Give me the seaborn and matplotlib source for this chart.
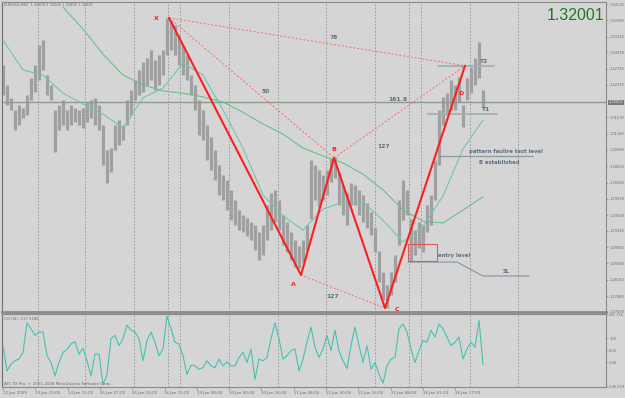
import numpy as np
import pandas as pd
import matplotlib
matplotlib.use("Agg")
import matplotlib.pyplot as plt
from matplotlib.patches import Rectangle
import seaborn as sns

# ---------------- data ----------------
time_labels = ["12 Jan 2009", "13 Jan 23:00", "14 Jan 15:00", "15 Jan 07:00", "15 Jan 23:00",
               "16 Jan 15:00", "19 Jan 08:00", "20 Jan 00:00", "20 Jan 16:00", "21 Jan 08:00",
               "22 Jan 00:00", "22 Jan 16:00", "23 Jan 08:00", "26 Jan 01:00", "26 Jan 17:00"]
price_tick_values = [1.34118, 1.33768, 1.33418, 1.33078, 1.32728, 1.32378, 1.31678, 1.31328,
                     1.30980, 1.30630, 1.30280, 1.29930, 1.29580, 1.29240, 1.28890, 1.28540,
                     1.28190, 1.27840, 1.27500]
price_tick_labels = ["%.5f" % v for v in price_tick_values]
cci_tick_values = [292.724, 100, 0, -100, -296.019]
cci_tick_labels = ["292.724", "100", "0.00", "-100", "-296.019"]
symbol = "EURUSD,M60"
ohlc_last = "1.31878 1.32026 1.31895 1.32001"
last_price = 1.32001
last_cci = -117.3186

# hourly bars, one sample every 2 bars
price_high = [1.3281, 1.3238, 1.3210, 1.3184, 1.3195, 1.3188, 1.3216, 1.3253, 1.3281, 1.3324,
              1.3334, 1.3259, 1.3238, 1.3184, 1.3195, 1.3205, 1.3184, 1.3195, 1.3188, 1.3184,
              1.3188, 1.3201, 1.3205, 1.3210, 1.3195, 1.3152, 1.3098, 1.3102, 1.3152, 1.3162,
              1.3152, 1.3205, 1.3227, 1.3248, 1.3270, 1.3287, 1.3296, 1.3313, 1.3291, 1.3302,
              1.3313, 1.3382, 1.3373, 1.3367, 1.3345, 1.3324, 1.3302, 1.3259, 1.3238, 1.3205,
              1.3184, 1.3152, 1.3126, 1.3098, 1.3066, 1.3044, 1.3033, 1.3012, 1.2990, 1.2969,
              1.2958, 1.2952, 1.2943, 1.2937, 1.2922, 1.2937, 1.2980, 1.3006, 1.3012, 1.2990,
              1.2958, 1.2943, 1.2922, 1.2904, 1.2891, 1.2904, 1.2937, 1.3076, 1.3066, 1.3055,
              1.3044, 1.3055, 1.3081, 1.3083, 1.3051, 1.3023, 1.3006, 1.3027, 1.3023, 1.3012,
              1.3001, 1.2984, 1.2965, 1.2930, 1.2880, 1.2836, 1.2808, 1.2836, 1.2872, 1.2990,
              1.3033, 1.3012, 1.2950, 1.2926, 1.2943, 1.2937, 1.2980, 1.3001, 1.3076, 1.3184,
              1.3212, 1.3220, 1.3248, 1.3238, 1.3255, 1.3195, 1.3253, 1.3276, 1.3296, 1.3330,
              1.3227]
price_low = [1.3216, 1.3195, 1.3184, 1.3141, 1.3152, 1.3167, 1.3173, 1.3205, 1.3223, 1.3248,
             1.3270, 1.3216, 1.3205, 1.3094, 1.3141, 1.3152, 1.3141, 1.3152, 1.3158, 1.3152,
             1.3145, 1.3158, 1.3167, 1.3152, 1.3141, 1.3066, 1.3027, 1.3051, 1.3098, 1.3109,
             1.3119, 1.3152, 1.3173, 1.3205, 1.3216, 1.3223, 1.3238, 1.3248, 1.3227, 1.3238,
             1.3259, 1.3302, 1.3313, 1.3302, 1.3281, 1.3259, 1.3248, 1.3216, 1.3184, 1.3130,
             1.3119, 1.3076, 1.3055, 1.3033, 1.3001, 1.2990, 1.2969, 1.2947, 1.2937, 1.2926,
             1.2922, 1.2913, 1.2904, 1.2883, 1.2861, 1.2872, 1.2904, 1.2926, 1.2943, 1.2926,
             1.2894, 1.2879, 1.2861, 1.2846, 1.2844, 1.2857, 1.2883, 1.2950, 1.2990, 1.2975,
             1.2990, 1.3001, 1.3029, 1.3038, 1.2980, 1.2958, 1.2937, 1.2980, 1.2980, 1.2958,
             1.2943, 1.2930, 1.2915, 1.2879, 1.2814, 1.2775, 1.2758, 1.2786, 1.2814, 1.2894,
             1.2947, 1.2958, 1.2857, 1.2872, 1.2887, 1.2879, 1.2922, 1.2937, 1.2990, 1.3066,
             1.3152, 1.3173, 1.3184, 1.3184, 1.3201, 1.3147, 1.3205, 1.3220, 1.3238, 1.3253,
             1.3188]
cci = [39, -170, -114, -86, -72, -17, 225, 177, 122, 150,
       150, -45, -100, -211, -100, -17, 5, 52, 72, -31,
       16, -86, -211, -31, -31, -281, -200, 94, 122, 39,
       94, 205, 164, 150, 94, -86, 80, 150, 66, -45,
       11, 280, 177, 66, 52, -45, -198, -123, -128, -156,
       -142, -86, -128, -142, -72, -128, -95, -128, -128, -59,
       -17, -100, 11, -239, -72, -86, -59, 94, 225, 94,
       -72, -45, -3, 11, -170, -72, 66, 191, 25, -59,
       11, 122, -3, 164, -3, -86, -150, 39, 191, 39,
       -100, 39, -156, -100, -198, -270, -128, -72, -59, 177,
       215, 150, 11, -100, -3, 80, 66, 164, 108, 215,
       177, 108, 39, 66, 108, -72, 11, 66, 25, 247,
       -117]
# moving averages, one sample every 10 bars
ma_fast = [1.3334, 1.3270, 1.3259, 1.3220, 1.3197, 1.3175, 1.3145, 1.3210, 1.3231, 1.3285,
           1.3259, 1.3184, 1.3102, 1.3001, 1.2956, 1.2926, 1.2971, 1.2986, 1.2986, 1.2947,
           1.2900, 1.2934, 1.2999, 1.3100, 1.3162]
ma_slow_start = 30
ma_slow = [1.3405, 1.3358, 1.3304, 1.3259, 1.3238, 1.3225, 1.3220, 1.3212, 1.3201, 1.3179,
           1.3154, 1.3132, 1.3102, 1.3085, 1.3070, 1.3046, 1.3012, 1.2969, 1.2945, 1.2941,
           1.2969, 1.2997]

# harmonic pattern
pattern_names = ["X", "A", "B", "C", "D"]
pattern_bars = [83, 149, 165.5, 191, 231]
pattern_prices = [1.3382, 1.2829, 1.3081, 1.2758, 1.3279]
ratio_links = [(0, 4), (0, 2), (2, 4), (1, 3)]
ratio_labels = ["78", "50", "161.8", "127"]
cd_ratio_label = "127"

t2_level = 1.3279
t1_level = 1.3175
failure_level = 1.3085
entry_level = 1.2857
sl_level = 1.2827
entry_box = (1.2859, 1.2895)

separators = [17.5, 41, 65.5, 82.5, 88.5, 113, 137.5, 161.5, 186, 203, 209, 233.5, 257.5]

# ---------------- style ----------------
sns.set_theme(style="white")
plt.rcParams["font.family"] = ["DejaVu Sans"]
BG = "#d5d5d5"
TXT = "#6c6c6c"
ANN = "#5e6f80"
RED = "#ff1e1e"

W, H = 625, 398
fig = plt.figure(figsize=(W / 100, H / 100), dpi=100)
fig.patch.set_facecolor(BG)


def rect(x0, y0, x1, y1):
    return [x0 / W, 1 - y1 / H, (x1 - x0) / W, (y1 - y0) / H]


def off(dx, dy):
    return (dx * 0.72, -dy * 0.72)


ax = fig.add_axes(rect(2, 2, 606, 312))
axc = fig.add_axes(rect(2, 314, 606, 387), sharex=ax)
for a in (ax, axc):
    a.set_facecolor(BG)
    for s in a.spines.values():
        s.set_color("#8a8a8a")
        s.set_linewidth(0.8)
    a.spines["left"].set_color("#707070")
ax.spines["bottom"].set_linewidth(2.0)
ax.spines["bottom"].set_color("#8c8c8c")

# separators
for s in separators:
    for a in (ax, axc):
        a.axvline(s, color="#8e968e", lw=0.6, ls=(0, (2, 2)), zorder=1)

# price bars
bars = np.arange(len(price_high)) * 2
ax.vlines(bars, price_low, price_high, color="#a0a0a0", lw=2.3, zorder=2)

# current price line
ax.axhline(last_price, color="#8c9a8c", lw=1.0, zorder=2)

# moving averages
df_fast = pd.DataFrame({"bar": np.arange(len(ma_fast)) * 10, "ma": ma_fast})
df_slow = pd.DataFrame({"bar": ma_slow_start + np.arange(len(ma_slow)) * 10, "ma": ma_slow})
sns.lineplot(data=df_fast, x="bar", y="ma", ax=ax, color="#72c6ae", lw=0.8, zorder=3)
sns.lineplot(data=df_slow, x="bar", y="ma", ax=ax, color="#66c28c", lw=0.8, zorder=3)

# pattern dashed ratio lines
for (i, j) in ratio_links:
    ax.plot([pattern_bars[i], pattern_bars[j]], [pattern_prices[i], pattern_prices[j]],
            color="#ff6a6a", lw=0.7, ls=(0, (2, 2)), zorder=4)
# pattern legs
ax.plot(pattern_bars, pattern_prices, color=RED, lw=1.5, zorder=5, solid_capstyle="round")

pat_offsets = [(-12.5, 1), (-8, 9), (0, -8), (12, 1), (-4, 28)]
for name, b, p, o in zip(pattern_names, pattern_bars, pattern_prices, pat_offsets):
    ax.annotate(name, (b, p), xytext=off(*o), textcoords="offset points", ha="center",
                va="center", fontsize=4.5, fontweight="bold", color=RED, zorder=6)

ratio_offsets = [(17, -4), (14.5, 4), (-1.5, -12), (-10, 5)]
for (i, j), lab, o in zip(ratio_links, ratio_labels, ratio_offsets):
    mb = (pattern_bars[i] + pattern_bars[j]) / 2
    mp = (pattern_prices[i] + pattern_prices[j]) / 2
    ax.annotate(lab, (mb, mp), xytext=off(*o), textcoords="offset points", ha="center",
                va="center", fontsize=4.3, fontweight="bold", color=ANN, zorder=6)
ax.annotate(cd_ratio_label, (pattern_bars[2], pattern_prices[2]), xytext=off(50, -11),
            textcoords="offset points", ha="center", va="center", fontsize=4.3,
            fontweight="bold", color=ANN, zorder=6)

# target / level lines
ax.plot([217.5, 245.5], [t2_level, t2_level], color="#a6aeb6", lw=1.3, zorder=3)
ax.plot([212.5, 247], [t1_level, t1_level], color="#a6aeb6", lw=1.3, zorder=3)
ax.plot([217.5, 265], [failure_level, failure_level], color="#8b99a3", lw=0.9, zorder=3)
ax.plot([202.5, 227, 240, 263], [entry_level, entry_level, sl_level, sl_level],
        color="#8494a4", lw=0.8, zorder=3)
ax.add_patch(Rectangle((202.5, entry_box[0]), 14.5, entry_box[1] - entry_box[0], fill=False,
                       ec="#e05a5a", lw=0.8, zorder=4))


def ann(text, xy, o, ha="center", fs=4.3):
    ax.annotate(text, xy, xytext=off(*o), textcoords="offset points", ha=ha, va="center",
                fontsize=fs, fontweight="bold", color=ANN, zorder=6)


ann("T2", (245.5, t2_level), (-10, -4))
ann("T1", (247, t1_level), (-11, -5))
ann("pattern faulire test level", (265, failure_level), (-27, -4), fs=3.8)
ann("B established", (265, failure_level), (-34, 7), fs=3.8)
ann("entry level", (202.5, entry_level), (30, -7), ha="left", fs=3.8)
ann("SL", (263, sl_level), (-23, -5), fs=3.8)

# CCI
sns.lineplot(x=np.arange(len(cci)) * 2, y=cci, ax=axc, color="#45c2b1", lw=0.8, zorder=3)

# axes limits and ticks
ax.set_xlim(-0.5, 301.5)
ax.set_ylim(1.27496, 1.34161)
axc.set_ylim(-302, 298)
for a in (ax, axc):
    a.set_xlabel("")
    a.set_ylabel("")
    a.yaxis.tick_right()
    a.tick_params(axis="y", length=1.5, width=0.5, pad=0.8, colors="#8a8a8a", labelcolor=TXT,
                  labelsize=2.6)
ax.set_yticks(price_tick_values)
ax.set_yticklabels(price_tick_labels)
ax.tick_params(axis="x", bottom=False, labelbottom=False)
axc.set_yticks(cci_tick_values)
axc.set_yticklabels(cci_tick_labels)
axc.set_xticks(np.arange(len(time_labels)) * 16.15)
axc.set_xticklabels(time_labels)
axc.tick_params(axis="x", length=2, width=0.5, pad=1.2, colors="#8a8a8a", labelcolor=TXT,
                labelsize=2.9, bottom=True)
for t in axc.get_xticklabels():
    t.set_ha("left")

# current price tag on axis
ax.annotate("%.5f" % last_price, (1, last_price), xycoords=("axes fraction", "data"),
            xytext=(1.6, 0), textcoords="offset points", ha="left", va="center", fontsize=2.6,
            color="#e6e6e6", bbox=dict(fc="#7a7a7a", ec="none", pad=0.4), zorder=7,
            annotation_clip=False)

# texts
fig.text(4 / W, 1 - 5.5 / H, symbol + "  " + ohlc_last, fontsize=2.6, color=TXT, va="center")
fig.text(604 / W, 1 - 15 / H, "%.5f" % last_price, ha="right", va="center", fontsize=11.5,
         color="#1f7a1f", family=["Liberation Sans", "DejaVu Sans"])
fig.text(4 / W, 1 - 319 / H, "CCI(14) %.4f" % last_cci, fontsize=2.7, color=TXT, va="center")
fig.text(4 / W, 1 - 384 / H, "ATC FX Pro, \u00a9 2001-2008 MetaQuotes Software Corp.",
         fontsize=2.9, color=TXT, va="center")

fig.savefig("out.png", dpi=100, facecolor=BG)
